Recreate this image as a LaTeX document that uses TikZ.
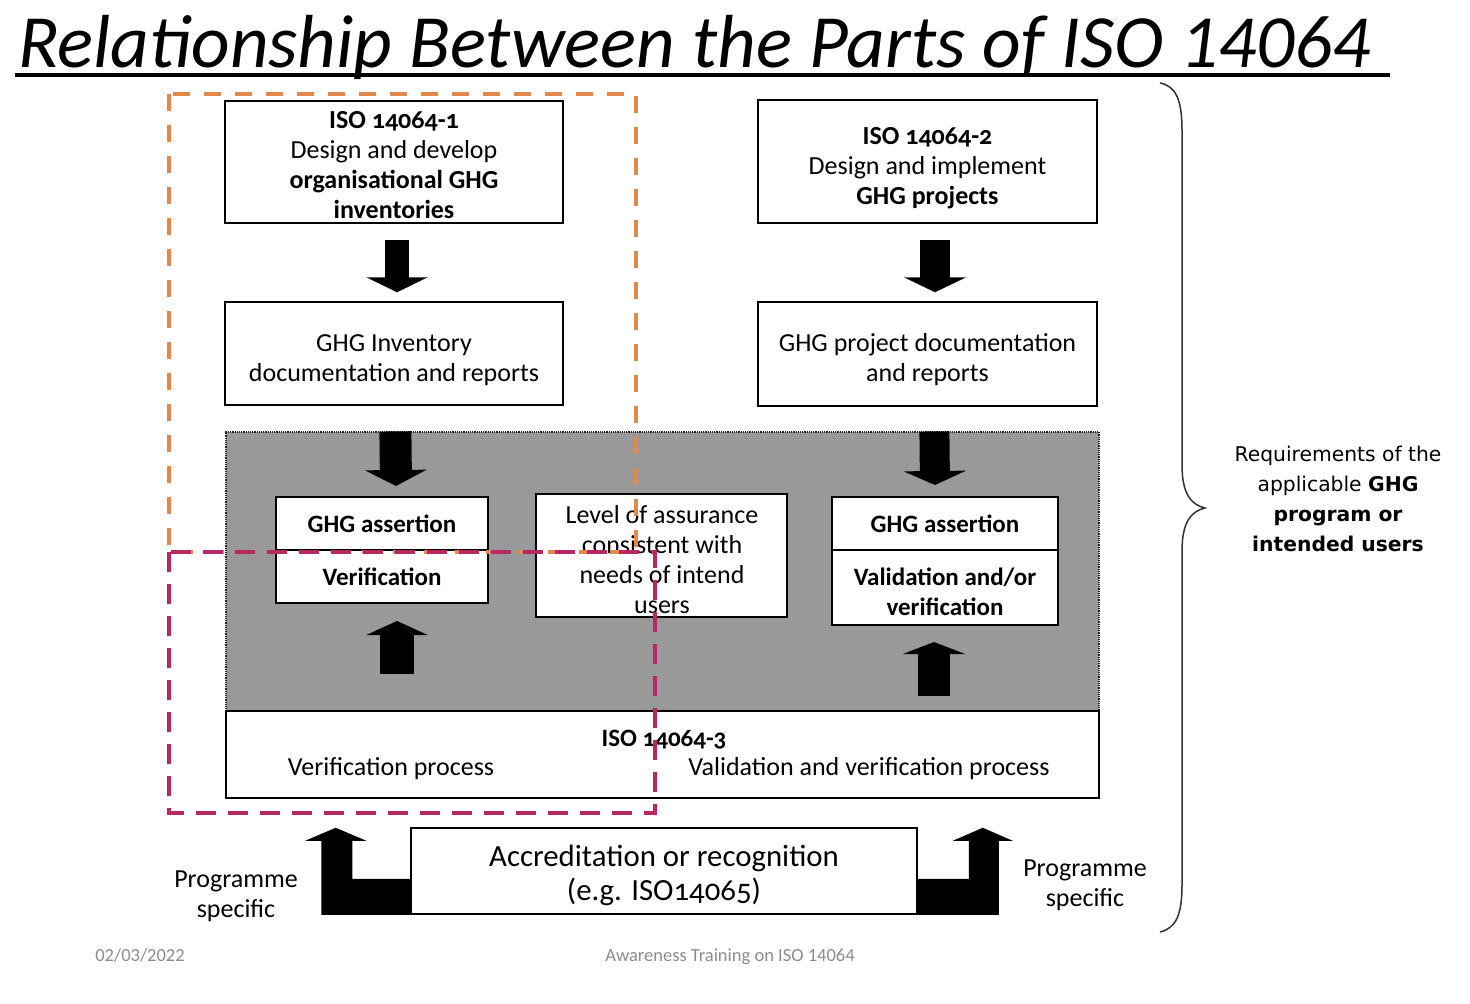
\documentclass[tikz,border=0pt]{standalone}
\usepackage{fontspec}
\setmainfont{Carlito}
\newfontfamily\osf[Numbers=OldStyle]{Carlito}
\newfontfamily\reqfont{DejaVu Sans}
\usetikzlibrary{arrows.meta,calc}

\definecolor{dashorange}{RGB}{226,136,74}
\definecolor{dashmagenta}{RGB}{186,40,100}
\definecolor{panelgray}{RGB}{153,153,153}
\definecolor{footgray}{RGB}{140,140,140}
\definecolor{bracegray}{RGB}{50,50,50}

\begin{document}
\begin{tikzpicture}[x=1pt,y=-1pt,
  box/.style={draw=black,line width=1.5,fill=white,inner sep=0},
  innerbox/.style={box,line width=2,align=center,font=\fontsize{25}{30}\selectfont\bfseries},
  txt/.style={inner sep=0,align=center,font=\fontsize{26}{30}\selectfont},
  fatarrow/.style n args={3}{line width=#1,-{Triangle[width=#2,length=#3]}},
  orangedash/.style={draw=dashorange,line width=4,dash pattern=on 17pt off 14pt},
  magentadash/.style={draw=dashmagenta,line width=4,dash pattern=on 20pt off 12pt},
  foot/.style={inner sep=0,anchor=base,text=footgray,font=\fontsize{18.5}{22}\selectfont}]

\useasboundingbox (0,0) rectangle (1470,1004);

% heading
\node[anchor=base west,inner sep=0,font=\fontsize{75.2}{80}\selectfont\itshape]
  (title) at (18,67) {Relationship Between the Parts of ISO 14064};
\draw[line width=4] (15,75) -- (1390,75);

% shaded verification panel
\node[draw=black!85,densely dotted,line width=1.2,fill=panelgray,inner sep=0,
  minimum width=873,minimum height=279] (panel) at (662.5,571.5) {};

% ISO 14064-1 column
\node[box,minimum width=338,minimum height=122] (iso1) at (394,162) {};
\node[txt] (iso1t) at ($(iso1)+(0,3.5)$)
  {{\osf\bfseries ISO 14064-1}\\Design and develop\\{\bfseries organisational GHG}\\{\bfseries inventories}};
\node[box,minimum width=338,minimum height=103] (inv) at (394,353.5) {};
\node[txt] (invt) at ($(inv)+(0,7)$) {GHG Inventory\\documentation and reports};

% ISO 14064-2 column
\node[box,minimum width=339,minimum height=123] (iso2) at (927.5,161.5) {};
\node[txt] (iso2t) at ($(iso2)+(0,6.5)$)
  {{\osf\bfseries ISO 14064-2}\\Design and implement\\{\bfseries GHG projects}};
\node[box,minimum width=339,minimum height=104] (proj) at (927.5,354) {};
\node[txt] (projt) at ($(proj)+(0,6)$) {GHG project documentation\\and reports};

% boxes inside the panel
\node[innerbox,minimum width=212,minimum height=53] (ga1) at (382,523.5) {GHG assertion};
\node[innerbox,minimum width=212,minimum height=53] (ver1) at (382,576.5) {Verification};
\node[box,line width=2,minimum width=251,minimum height=123] (lvl) at (661.5,555.5) {};
\node[txt] (lvlt) at (662,560) {Level of assurance\\consistent with\\needs of intend\\users};
\node[innerbox,minimum width=226,minimum height=53] (ga2) at (945,523.5) {GHG assertion};
\node[box,line width=2,minimum width=226,minimum height=75] (val2) at (945,587.5) {};
\node[txt,font=\fontsize{25}{30}\selectfont\bfseries] (val2t) at ($(val2)+(0,4)$)
  {Validation and/or\\verification};

% ISO 14064-3 band
\node[box,minimum width=873,minimum height=87] (iso3) at (662.5,754.5) {};
\node[txt,font=\fontsize{25}{30}\selectfont\bfseries\osf] (iso3h) at (664,740) {ISO 14064-3};
\node[txt] (iso3l) at (391,769) {Verification process};
\node[txt] (iso3r) at (869,769) {Validation and verification process};

% accreditation
\node[box,minimum width=506,minimum height=86] (acc) at (664,871) {};
\node[txt,font=\fontsize{30.8}{34}\selectfont] (acct) at ($(acc)+(0,4)$)
  {Accreditation or recognition\\({\osf e.g. ISO14065})};

% block arrows
\draw[fatarrow={24}{61pt}{15pt}] ($(iso1.south)+(3,16)$) -- ($(inv.north)+(3,-9)$);
\draw[fatarrow={30}{62pt}{15pt}] ($(iso2.south)+(7.5,16)$) -- ($(proj.north)+(7.5,-9)$);
\draw[fatarrow={32}{61pt}{16pt}] ($(panel.north west)+(170,0)$) -- ($(ga1.north)+(14,-10)$);
\draw[fatarrow={30}{62pt}{14pt}] ($(panel.north west)+(709,0)$) -- ($(ga2.north)+(-10,-11)$);
\draw[fatarrow={34}{61pt}{14pt}] ($(ver1.south)+(15,70)$) -- ($(ver1.south)+(15,17)$);
\draw[fatarrow={32}{62pt}{12pt}] ($(val2.south)+(-11,70)$) -- ($(val2.south)+(-11,16)$);

% elbow arrows beside the accreditation box
\fill ($(acc.south west)+(0,-36)$) -- ++(-58,0) -- ++(0,-38) -- ++(14,0)
  -- ++(-30.5,-13) -- ++(-30.5,13) -- ++(16,0) -- ++(0,74) -- (acc.south west) -- cycle;
\fill ($(acc.south east)+(0,-36)$) -- ++(51,0) -- ++(0,-38) -- ++(-16,0)
  -- ++(30,-13) -- ++(30,13) -- ++(-14,0) -- ++(0,74) -- (acc.south east) -- cycle;

\node[txt] (progl) at (236,896) {Programme\\specific};
\node[txt] (progr) at (1085,885) {Programme\\specific};

% scope outlines
\draw[orangedash] (169,94) rectangle (636,552);
\draw[magentadash] (169,552) rectangle (655,813);

% brace and requirements
\draw[bracegray,line width=1.5] (1160,83) .. controls (1176,86) and (1182,100) .. (1182,130)
  -- (1182,465) .. controls (1182,495) and (1192,505) .. (1205,508)
  .. controls (1192,511) and (1182,521) .. (1182,551)
  -- (1182,885) .. controls (1182,915) and (1176,928) .. (1160,932);
\node[inner sep=0,align=center,font=\reqfont\fontsize{20.3}{30}\selectfont] (req) at (1338,499)
  {Requirements of the\\applicable \textbf{GHG}\\\textbf{program or}\\\textbf{intended users}};

% footer
\node[foot] (date) at (140,961) {02/03/2022};
\node[foot] (event) at (730,961) {Awareness Training on ISO 14064};
\end{tikzpicture}
\end{document}
